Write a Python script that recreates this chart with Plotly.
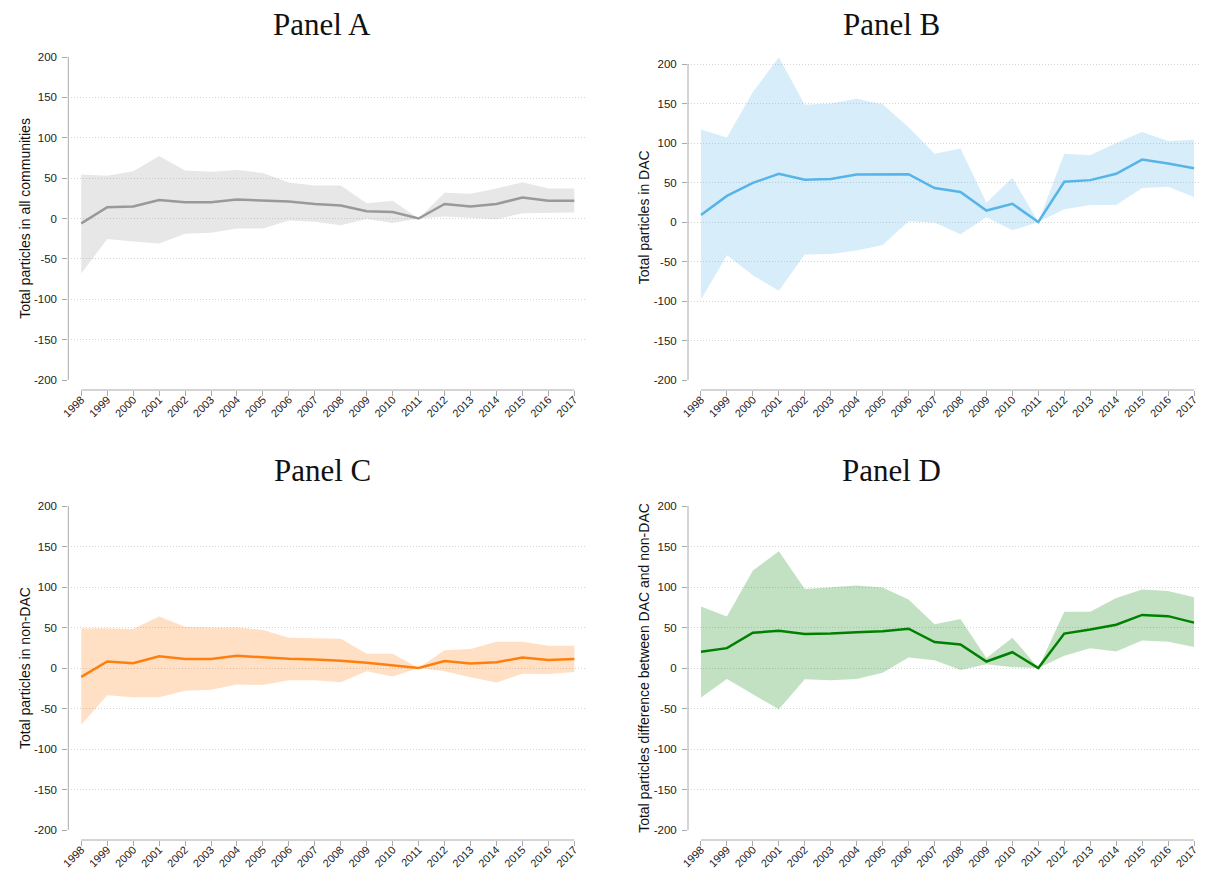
import plotly.graph_objects as go

years = list(range(1998, 2018))

a_mean = [-6, 14, 15, 23, 20, 20, 23.5, 22, 21, 18, 16, 9, 8, 0, 18, 15, 18, 26, 22, 22]
a_upper = [54.5, 53, 58.5, 77.5, 59.5, 58, 60, 56.5, 44.5, 41, 41, 19, 22, 0, 32, 30.5, 37, 45, 37, 37]
a_lower = [-68, -25.5, -28.5, -31, -19, -17.5, -12.5, -12.5, -2.5, -4, -8.5, -0.5, -5.5, 0, 2.5, 1, -1, 6.5, 7, 7.5]

b_mean = [9, 33, 49.5, 61, 53.5, 54.5, 60, 60, 60.5, 43, 38, 14.5, 23, 0, 51, 53, 61, 79, 74, 68]
b_upper = [117, 107, 164.5, 208.5, 148.5, 150, 156, 149, 120, 86.5, 93, 24.5, 56, 0, 86.5, 84.5, 100, 114, 102.5, 104]
b_lower = [-98, -42, -67.5, -87, -41, -40.5, -36, -29, 1, -0.5, -15.5, 6, -10.5, 0, 16, 21.5, 21.5, 43, 44.5, 31.5]

c_mean = [-11, 8, 6, 14.5, 11, 11, 15, 13, 11.5, 10.5, 9, 6.5, 3.5, 0, 8.5, 5.5, 7, 13, 10, 11]
c_upper = [49, 49, 48, 63.5, 51, 50, 50, 47, 37.5, 36.5, 36, 17.5, 17.5, 0, 22, 23.5, 32.5, 32.5, 27.5, 27.5]
c_lower = [-70, -33.5, -36, -36, -28, -27, -20.5, -21, -15, -15, -17.5, -4, -10.5, 0, -4, -11.5, -18, -7, -7.5, -5]

d_mean = [20, 24.5, 43.5, 46, 42, 42.5, 44, 45.5, 48.5, 32, 29, 8, 19.5, 0, 42.5, 47.5, 53.5, 65.5, 64, 56]
d_upper = [76, 63.5, 120.5, 144, 97.5, 100, 102, 99.5, 84.5, 54, 60.5, 12.5, 37.5, 0, 69.5, 69.5, 86.5, 97, 95, 87.5]
d_lower = [-36.5, -13.5, -32.5, -51, -14, -15, -13.5, -6, 13, 9.5, -2.5, 4.5, 1, 0, 15, 24.5, 20.5, 34, 32.5, 26]

titles = ["Panel A", "Panel B", "Panel C", "Panel D"]
ytitles = ["Total particles in all communities", "Total particles in DAC",
           "Total particles in non-DAC", "Total particles difference between DAC and non-DAC"]
y_ticks = [-200, -150, -100, -50, 0, 50, 100, 150, 200]
y_ticktext = [str(v) for v in y_ticks]

# page has an 8px body margin: work in page pixels, convert to figure pixels
OFF = 8
W, H = 1200, 861

def fx(px):
    return (px - OFF) / W

def fy(py):
    return 1 - (py - OFF) / H

panels = [
    dict(mean=a_mean, up=a_upper, lo=a_lower, line="#999999", fill="rgba(153,153,153,0.23)",
         x0=68.3, x1=587.3, ytop=57, ybot=380, ymax=200, tx=322, ty=25),
    dict(mean=b_mean, up=b_upper, lo=b_lower, line="#56B4E9", fill="rgba(86,180,233,0.24)",
         x0=688, x1=1207, ytop=64, ybot=380, ymax=212, tx=891, ty=25),
    dict(mean=c_mean, up=c_upper, lo=c_lower, line="#ff7f0e", fill="rgba(255,127,14,0.24)",
         x0=68.3, x1=587.3, ytop=506, ybot=830, ymax=200, tx=322, ty=470),
    dict(mean=d_mean, up=d_upper, lo=d_lower, line="#008000", fill="rgba(0,128,0,0.24)",
         x0=688, x1=1207, ytop=506, ybot=830, ymax=200, tx=891, ty=470),
]

fig = go.Figure()
layout = dict(
    template="none",
    width=W, height=H, margin=dict(l=0, r=0, t=0, b=0, pad=0, autoexpand=False),
    plot_bgcolor="white", paper_bgcolor="white", showlegend=False,
    font=dict(family="Liberation Sans, Arial, sans-serif", color="#222"),
)
shapes = []
annotations = []
for i, p in enumerate(panels):
    n = i + 1
    xa = "x" if n == 1 else f"x{n}"
    ya = "y" if n == 1 else f"y{n}"
    fig.add_trace(go.Scatter(x=years, y=p["lo"], mode="lines", line=dict(width=0),
                             xaxis=xa, yaxis=ya, hoverinfo="skip"))
    fig.add_trace(go.Scatter(x=years, y=p["up"], mode="lines", line=dict(width=0),
                             fill="tonexty", fillcolor=p["fill"], xaxis=xa, yaxis=ya, hoverinfo="skip"))
    fig.add_trace(go.Scatter(x=years, y=p["mean"], mode="lines", line=dict(color=p["line"], width=2.5),
                             xaxis=xa, yaxis=ya))
    ppu = (p["ybot"] - p["ytop"]) / 400.0
    top_px = p["ytop"] - (p["ymax"] - 200) * ppu
    xpos = fy(p["ybot"] + 10)
    layout[f"xaxis{'' if n == 1 else n}"] = dict(
        domain=[fx(p["x0"]), fx(p["x1"])], range=[1997.5, 2017.5], automargin=False,
        anchor="free", position=xpos, showline=False, showgrid=False, zeroline=False,
        tickvals=years, ticktext=[str(y) for y in years], tickangle=-45,
        ticks="outside", ticklen=5, tickcolor="#aaaaaa", tickfont=dict(size=11, color="#222"),
        ticklabelstandoff=-7,
    )
    layout[f"yaxis{'' if n == 1 else n}"] = dict(
        domain=[fy(p["ybot"]), fy(top_px)], range=[-200, p["ymax"]], automargin=False,
        anchor=xa, showline=False,
        showgrid=True, gridcolor="#d4d4d4", griddash="1px,2px", gridwidth=1, zeroline=False,
        tickvals=y_ticks, ticktext=y_ticktext, ticks="outside", ticklen=5, tickcolor="#aaaaaa",
        tickfont=dict(size=11.5, color="#222"), ticklabelstandoff=3,
        title=dict(text=ytitles[i], font=dict(size=14, color="#111"), standoff=0),
    )
    shapes.append(dict(type="line", xref=xa, yref="paper", x0=years[0], x1=years[-1],
                       y0=xpos, y1=xpos, line=dict(color="#aaaaaa", width=1)))
    shapes.append(dict(type="line", xref=f"{xa} domain", yref=ya, x0=0, x1=0,
                       y0=y_ticks[0], y1=y_ticks[-1], line=dict(color="#aaaaaa", width=1)))
    annotations.append(dict(text=titles[i], xref="paper", yref="paper", x=fx(p["tx"]), y=fy(p["ty"]),
                            xanchor="center", yanchor="middle", showarrow=False,
                            font=dict(family="Liberation Serif, Times New Roman, serif", size=31, color="#111")))

layout["shapes"] = shapes
layout["annotations"] = annotations
fig.update_layout(**layout)
fig.write_html("out.html")
